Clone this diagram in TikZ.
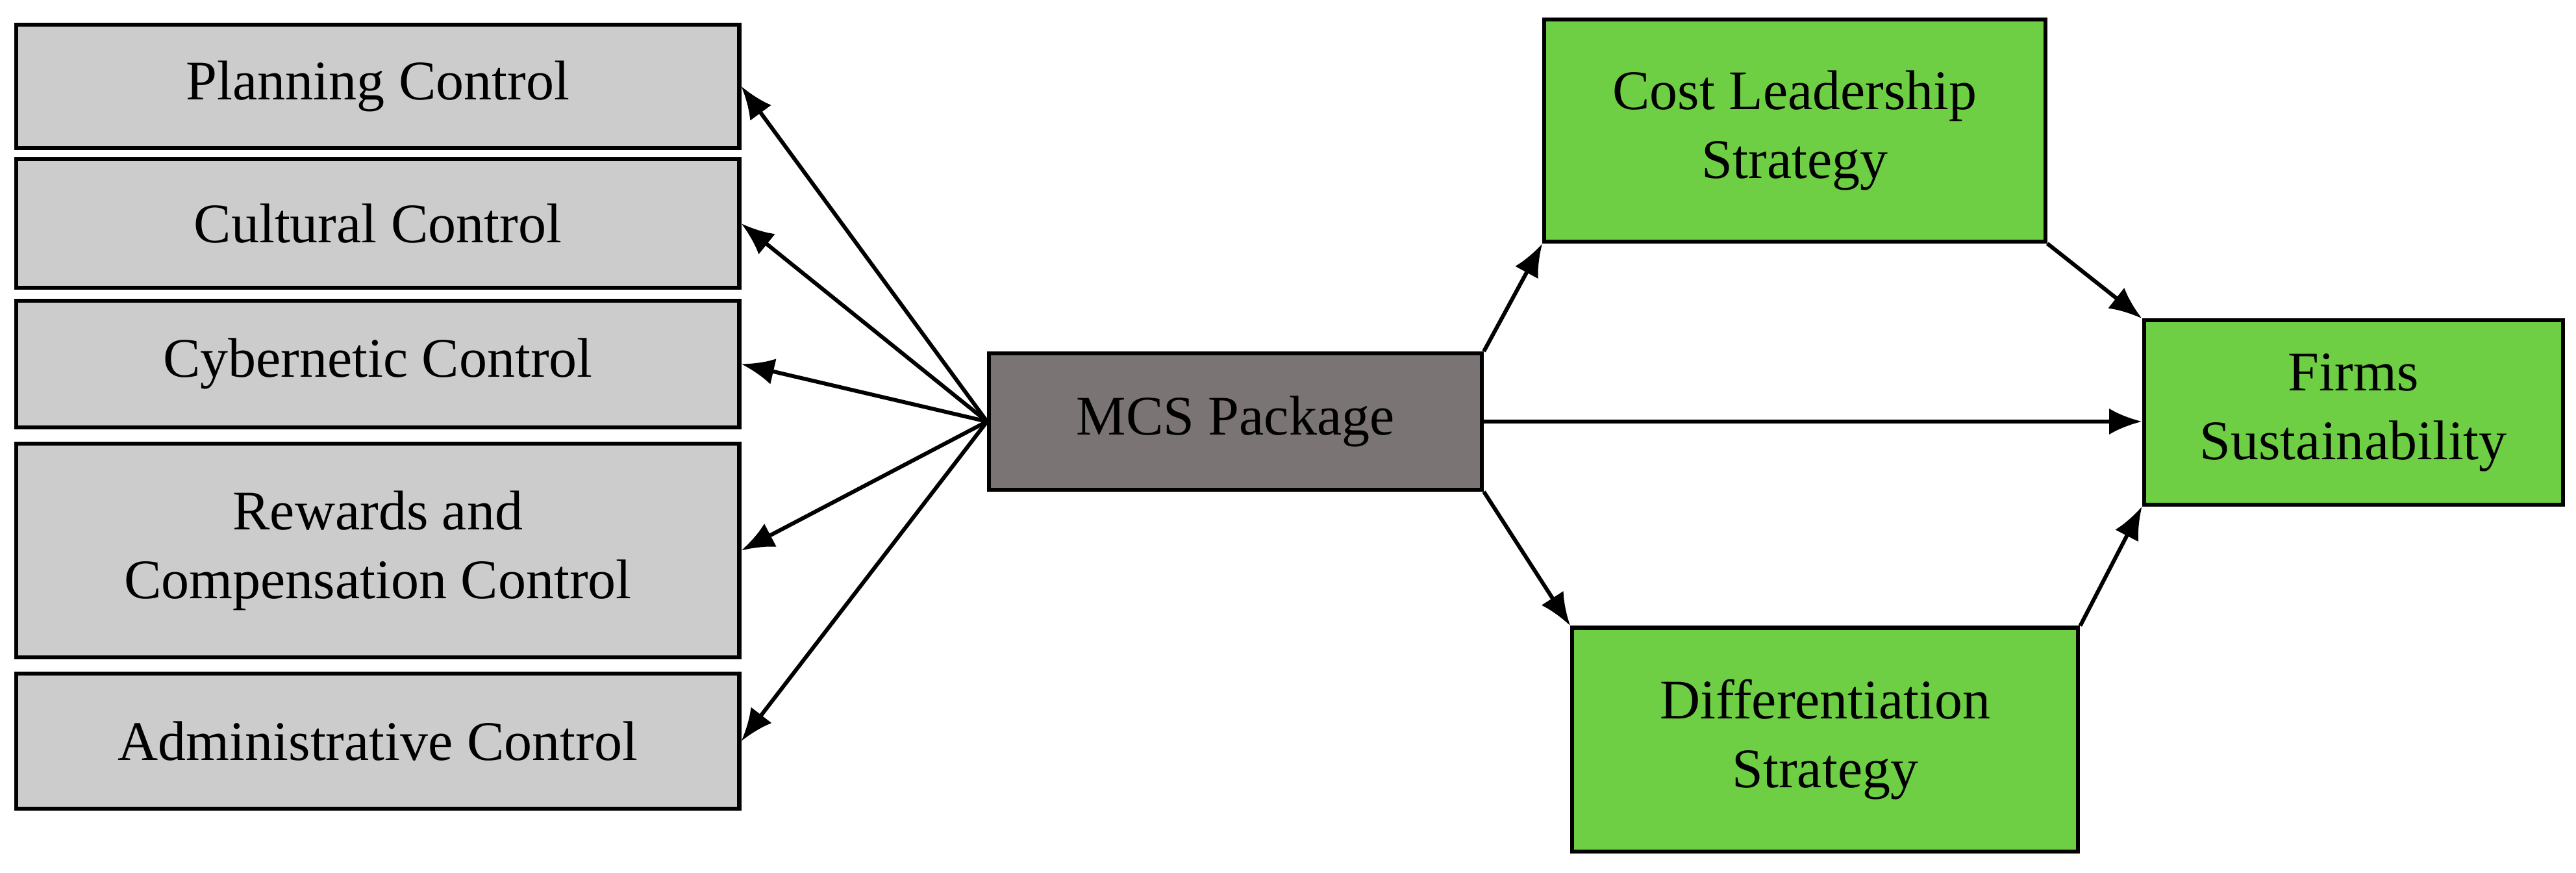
\documentclass[tikz,border=0pt]{standalone}
\usepackage{fontspec}
\setmainfont{Liberation Serif}
\usetikzlibrary{arrows.meta}
\definecolor{boxgray}{RGB}{204,204,204}
\definecolor{mcsgray}{RGB}{122,116,116}
\definecolor{boxgreen}{RGB}{110,207,69}
\tikzset{
  ctrl/.style={draw,line width=1.2pt,fill=boxgray,minimum width=220pt,align=center,inner sep=0pt},
  strat/.style={draw,line width=1.2pt,fill=boxgreen,align=center,inner sep=0pt},
  link/.style={-{Latex[length=10pt,width=8pt]},line width=1.2pt}
}
\begin{document}
\begin{tikzpicture}[x=0.5pt,y=-0.5pt,node font=\fontsize{17}{21}\selectfont]
  \useasboundingbox (0,0) rectangle (1568,531);
  % control boxes
  \node[ctrl,minimum height=37.5pt] (plan) at (230,52.5) {\raisebox{-6pt}{Planning Control}};
  \node[ctrl,minimum height=39pt] (cult) at (230,136) {\raisebox{-6pt}{Cultural Control}};
  \node[ctrl,minimum height=38.5pt] (cyb) at (230,221.5) {Cybernetic Control};
  \node[ctrl,minimum height=65pt] (rew) at (230,335) {Rewards and\\Compensation Control};
  \node[ctrl,minimum height=41pt] (adm) at (230,451) {Administrative Control};
  % package and strategies
  \node[draw,line width=1.2pt,fill=mcsgray,minimum width=150pt,minimum height=41.5pt] (mcs) at (752,256.5) {MCS Package};
  \node[strat,minimum width=152.5pt,minimum height=67.5pt] (cost) at (1092.5,79.5) {Cost Leadership\\Strategy};
  \node[strat,minimum width=154pt,minimum height=68pt] (diff) at (1111,450) {Differentiation\\Strategy};
  \node[strat,minimum width=127.5pt,minimum height=56pt] (firm) at (1432.5,251) {Firms\\Sustainability};
  % connectors
  \foreach \t in {plan,cult,cyb,rew,adm}
    \draw[link] (mcs.west) -- (\t.east);
  \draw[link] (mcs.north east) -- (cost.south west);
  \draw[link] (mcs.south east) -- (diff.north west);
  \draw[link] (mcs.east) -- (mcs.east -| firm.west);
  \draw[link] (cost.south east) -- (firm.north west);
  \draw[link] (diff.north east) -- (firm.south west);
\end{tikzpicture}
\end{document}
